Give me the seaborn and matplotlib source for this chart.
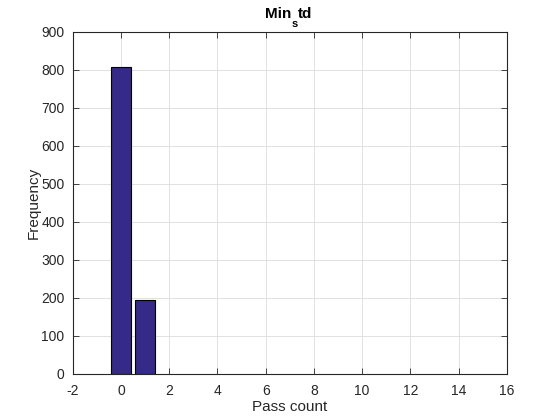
import numpy as np
import pandas as pd
import matplotlib
matplotlib.use("Agg")
import matplotlib.pyplot as plt
import seaborn as sns

# histogram counts
pass_count = [0, 1]
frequency = [807, 193]

sns.set_style("whitegrid")
plt.rcParams['font.family'] = ['Liberation Sans', 'DejaVu Sans']
plt.rcParams['axes.unicode_minus'] = False

df = pd.DataFrame({"pass": pass_count, "freq": frequency})

fig = plt.figure(figsize=(5.6, 4.2), dpi=100)
ax = fig.add_axes([0.13, 0.11, 0.775, 0.815])

ax.bar(df["pass"], df["freq"], width=0.8, color="#352a87",
       edgecolor="black", linewidth=0.8, zorder=3)

ax.set_xlim(-2, 16)
ax.set_ylim(0, 900)
ax.set_xticks(np.arange(-2, 17, 2))
ax.set_yticks(np.arange(0, 901, 100))

ax.grid(True, color="#dcdcdc", linewidth=0.6, zorder=0)
ax.set_facecolor("white")
for s in ax.spines.values():
    s.set_color("#262626")
    s.set_linewidth(0.8)
    s.set_visible(True)
ax.tick_params(direction="in", length=4, width=0.6, color="#262626",
               labelsize=10, labelcolor="#262626",
               top=True, right=True, bottom=True, left=True)
ax.tick_params(axis="x", pad=7)
ax.tick_params(axis="y", pad=6)

ax.set_xlabel("Pass count", fontsize=11, color="#262626", labelpad=2)
ax.set_ylabel("Frequency", fontsize=11, color="#262626", labelpad=0)

# title "Min_std" drawn TeX-style: subscript s sits well below the baseline
tkw = dict(xycoords="axes fraction", textcoords="offset points",
           fontweight="bold", color="black", va="baseline")
ax.annotate("Min", xy=(0.5, 1), xytext=(1, 10), ha="right", fontsize=11, **tkw)
ax.annotate("s", xy=(0.5, 1), xytext=(1.5, 3.5), ha="left", fontsize=8, **tkw)
ax.annotate("td", xy=(0.5, 1), xytext=(5.5, 10), ha="left", fontsize=11, **tkw)

fig.savefig("out.png", dpi=100)
